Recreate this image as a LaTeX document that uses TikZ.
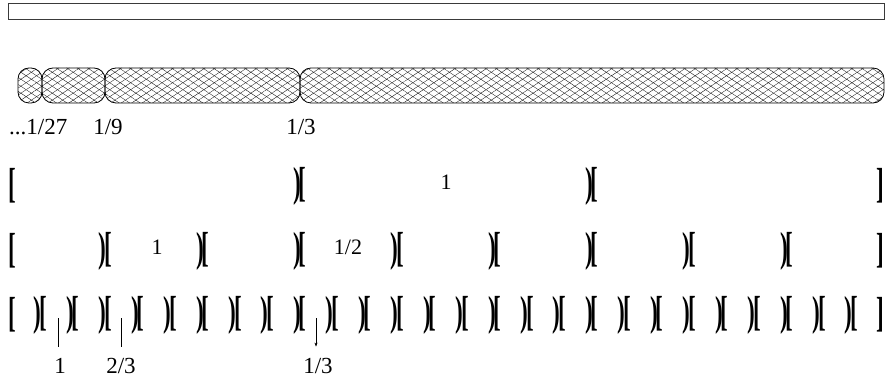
\documentclass[tikz,border=0pt]{standalone}
\usepackage{fontspec}
\setmainfont{Liberation Serif}
\usetikzlibrary{arrows.meta, patterns.meta}
\definecolor{ink}{HTML}{000000}
\definecolor{barline}{HTML}{3A3A3A}
\tikzset{
  bar/.style={
    rectangle, draw=barline, line width=1pt, inner sep=0pt,
    minimum width=876pt, minimum height=16pt
  },
  seg/.style={
    rectangle, draw=ink, line width=0.8pt, rounded corners=11pt,
    minimum height=35pt, inner sep=0pt,
    pattern={Lines[angle=33.7, distance=5.8pt, line width=0.3pt]},
    postaction={pattern={Lines[angle=-33.7, distance=5.8pt, line width=0.3pt]}}
  },
  brk/.style={inner sep=0pt, text=ink, font=\fontsize{42}{42}\selectfont\bfseries},
  num/.style={inner sep=0pt, anchor=base, text=ink, font=\fontsize{22}{22}\selectfont},
  lab/.style={inner sep=0pt, anchor=base, text=ink, font=\fontsize{23}{23}\selectfont},
  tick/.style={line width=0.5pt, draw=ink, shorten >=11pt}
}
\newcommand{\openbr}{\scalebox{0.55}[1]{[}}
\newcommand{\closebr}{\scalebox{0.55}[1]{]}}
\newcommand{\cutbr}{\scalebox{0.55}[1]{)\kern-4pt[}}

\begin{document}
\begin{tikzpicture}[x=1pt, y=-1pt]
\useasboundingbox (0,0) rectangle (886,379);

% ---------------- Bar ----------------
\node[bar] (bar) at (446,12) {};

% ---------------- Hatched pieces ----------------
\node[seg, minimum width=24pt]  (seg1) at (30,85.5) {};
\node[seg, minimum width=63pt]  (seg2) at (73.5,85.5) {};
\node[seg, minimum width=195pt] (seg3) at (202.5,85.5) {};
\node[seg, minimum width=584pt] (seg4) at (592,85.5) {};

\node[lab, anchor=base west] (seglab1) at (9,135) {...1/27};
\node[lab] (seglab2) at (108,135) {1/9};
\node[lab] (seglab3) at (301,135) {1/3};

% ---------------- Row 1: thirds ----------------
\node[brk, anchor=west] (r1l) at (8,186) {\openbr};
\foreach \i in {1,2}
  \node[brk] (r1b\i) at ({8+292*\i},186) {\cutbr};
\node[brk, anchor=east] (r1r) at (884,186) {\closebr};
\node[num] (r1n) at (446,190) {1};

% ---------------- Row 2: ninths ----------------
\node[brk, anchor=west] (r2l) at (8,251) {\openbr};
\foreach \i in {1,...,8}
  \node[brk] (r2b\i) at ({8+97.333*\i},251) {\cutbr};
\node[brk, anchor=east] (r2r) at (884,251) {\closebr};
\node[num] (r2n1) at (157,255) {1};
\node[num] (r2n2) at (348,255) {1/2};

% ---------------- Row 3: 27ths ----------------
\node[brk, anchor=west] (r3l) at (8,315) {\openbr};
\foreach \i in {1,...,26}
  \node[brk] (r3b\i) at ({8+32.444*\i},315) {\cutbr};
\node[brk, anchor=east] (r3r) at (884,315) {\closebr};

\coordinate (t1) at (58,318);
\coordinate (t2) at (121.6,318);
\coordinate (t3) at (316,318);
\node[lab] (l1) at (60,373) {1};
\node[lab] (l2) at (121,373) {2/3};
\node[lab] (l3) at (318,373) {1/3};

\draw[tick] (t1) -- (t1 |- l1.north);
\draw[tick] (t2) -- (t2 |- l2.north);
\draw[tick, -{Stealth[length=4pt, width=3pt]}] (t3) -- (t3 |- l3.north);

\end{tikzpicture}
\end{document}
